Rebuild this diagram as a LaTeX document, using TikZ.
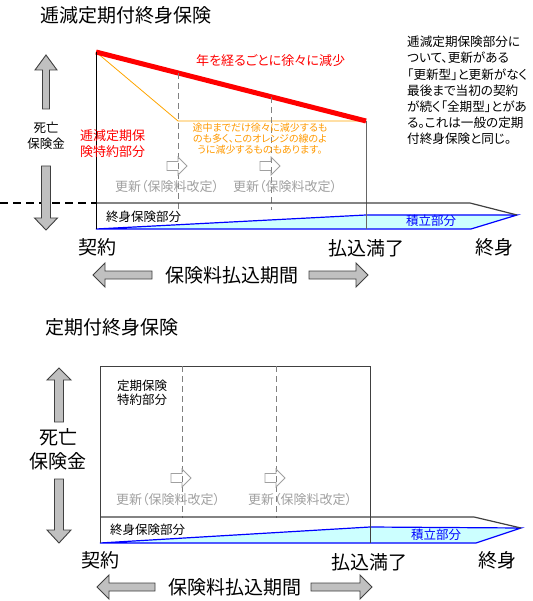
\documentclass[tikz,border=0pt]{standalone}
\usepackage{fontspec}
\setmainfont{Noto Sans CJK JP}[RawFeature=+palt]
\usetikzlibrary{positioning}

\definecolor{arrowgray}{HTML}{C0C0C0}
\definecolor{edgegray}{HTML}{404040}
\definecolor{renewgray}{HTML}{A0A0A0}
\definecolor{fundcyan}{HTML}{CCFFFF}
\definecolor{riderorange}{HTML}{FFA500}
\definecolor{noteorange}{HTML}{FF9900}

% block arrow along +x: length, shaft half width, head half width, head length
\newcommand{\blockarrow}[5][]{%
  \draw[#1] (0,-#3) -- ({#2-#5},-#3) -- ({#2-#5},-#4) -- (#2,0)
    -- ({#2-#5},#4) -- ({#2-#5},#3) -- (0,#3) -- cycle;}

\begin{document}
\begin{tikzpicture}[x=1pt, y=-1pt, every node/.style={inner sep=0pt},
    bigarrow/.style={fill=arrowgray, draw=edgegray, line width=0.9pt},
    renewarrow/.style={draw=renewgray, line width=0.8pt},
    renewline/.style={draw=gray, dash pattern=on 6pt off 4pt, line width=0.8pt},
    renewtext/.style={anchor=west, text=renewgray, font=\fontsize{13}{15}\selectfont},
    biglabel/.style={font=\fontsize{19}{24}\selectfont},
    smalllabel/.style={font=\fontsize{12.5}{14}\selectfont}]

\useasboundingbox (0,0) rectangle (532,601);

%%%%%%%% Decreasing term rider %%%%%%%%
\node[biglabel, anchor=west] (title1) at (40,15) {逓減定期付終身保険};

% Savings wedge
\coordinate (tBot) at (96,229);
\coordinate (tTip) at (517,215);
\draw[blue, line width=1.2pt, fill=fundcyan] (tBot) -- (366,215) -- (tTip) -- (471,229) -- cycle;

% Rider lines
\coordinate (t0) at (96,52);
\coordinate (tEnd) at (366,121);
\coordinate (tKnee) at (178,121);
\coordinate (tPay) at (366,229);
\draw[riderorange, line width=0.8pt] (t0) -- (tKnee) -- (tEnd);
\draw[edgegray!80, line width=1pt] (tEnd) -- (tPay);
\draw[red, line width=5pt] (t0) -- (tEnd);

% Renewals
\foreach \x/\y/\lx [count=\i] in {178/73/115, 271/97/233} {
    \draw[renewline] (\x,\y) coordinate (tr\i) -- (\x,210);
    \blockarrow[renewarrow, shift={(\x-11,166)}]{20}{4.5}{9}{9}
    \node[renewtext] (trt\i) at (\lx,187) {更新（保険料改定）};
}

% Whole life part
\coordinate (tBase) at (96,203);
\coordinate (tLeft) at (0,203);
\draw[edgegray, line width=1.2pt] (tBase) -- (470,203) -- (tTip);
\draw[black, line width=1.2pt, dash pattern=on 8pt off 5pt] (tLeft) -- (tBase);
\draw[black, line width=1pt] (t0) -- (tBot);
\node[smalllabel, anchor=west] (tlife) at (106,217) {終身保険部分};
\node[smalllabel, anchor=west, text=blue] (tfund) at (406,221) {積立部分};

% Labels
\node[anchor=west, text=red, font=\fontsize{13}{14}\selectfont] (tdec) at (196,61) {年を経るごとに徐々に減少};
\node[anchor=west, text=red, align=left, font=\fontsize{13}{16}\selectfont] (trider) at (80,144) {逓減定期保\\険特約部分};
\node[text=noteorange, align=center, font=\fontsize{10}{11}\selectfont] (tnote) at (260,139)
    {途中までだけ徐々に減少するも\\のも多く、このオレンジの線のよ\\うに減少するものもあります。};
\node[anchor=north west, align=left, font=\fontsize{12.6}{16.2}\selectfont] (tside) at (407,36)
    {逓減定期保険部分に\\ついて、更新がある\\「更新型」と更新がなく\\最後まで当初の契約\\が続く「全期型」とがあ\\る。これは一般の定期\\付終身保険と同じ。};
\node[align=center, font=\fontsize{12.5}{15.5}\selectfont] (tdeath) at (46,136) {死亡\\保険金};

% Death benefit arrows
\blockarrow[bigarrow, shift={(46,109)}, rotate=90]{54}{3.5}{11}{15}
\blockarrow[bigarrow, shift={(46,166)}, rotate=-90]{64}{4.5}{11.5}{12}

% Time axis
\node[biglabel] (tstart) at (97,247) {契約};
\node[biglabel] (tpaid) at (366,248) {払込満了};
\node[biglabel] (tlifeend) at (494,247) {終身};
\node[biglabel, anchor=west] (tperiod) at (165,275) {保険料払込期間};
\blockarrow[bigarrow, shift={(152,275)}, rotate=180]{59}{4}{12}{12}
\blockarrow[bigarrow, shift={(309,275)}]{59}{4}{12}{12}

%%%%%%%% Level term rider %%%%%%%%
\node[biglabel, anchor=west] (title2) at (45,327) {定期付終身保険};

% Savings wedge
\coordinate (bBot) at (100,543);
\coordinate (bTip) at (521,528);
\draw[blue, line width=1.2pt, fill=fundcyan] (bBot) -- (370,527) -- (bTip) -- (476,543) -- cycle;

% Rider box
\coordinate (b0) at (100,366);
\coordinate (bEnd) at (370,366);
\coordinate (bPay) at (370,543);
\draw[edgegray, line width=1pt] (bBot) -- (b0) -- (bEnd) -- (bPay);

% Renewals
\foreach \x/\lx [count=\i] in {182/116, 276/248} {
    \draw[renewline] (\x,366) coordinate (br\i) -- (\x,518);
    \blockarrow[renewarrow, shift={(\x-11,478)}]{20}{4.5}{9}{9}
    \node[renewtext] (brt\i) at (\lx,500) {更新（保険料改定）};
}

% Whole life part
\coordinate (bBase) at (100,517);
\draw[edgegray, line width=1.2pt] (bBase) -- (474,517) -- (bTip);
\node[smalllabel, anchor=west] (blife) at (110,530) {終身保険部分};
\node[smalllabel, anchor=west, text=blue] (bfund) at (411,535) {積立部分};

% Labels
\node[anchor=west, align=left, font=\fontsize{12.5}{14}\selectfont] (brider) at (117,393) {定期保険\\特約部分};
\node[biglabel, align=center] (bdeath) at (58,449) {死亡\\保険金};

% Death benefit arrows
\blockarrow[bigarrow, shift={(59,422)}, rotate=90]{54}{4.5}{12}{12}
\blockarrow[bigarrow, shift={(59,479)}, rotate=-90]{64}{4.5}{12}{13}

% Time axis
\node[biglabel] (bstart) at (100,560) {契約};
\node[biglabel] (bpaid) at (369,562) {払込満了};
\node[biglabel] (blifeend) at (497,560) {終身};
\node[biglabel, anchor=west] (bperiod) at (168,587) {保険料払込期間};
\blockarrow[bigarrow, shift={(155,587)}, rotate=180]{58}{4}{12}{12}
\blockarrow[bigarrow, shift={(311,587)}]{61}{4}{12}{12}

\end{tikzpicture}
\end{document}
